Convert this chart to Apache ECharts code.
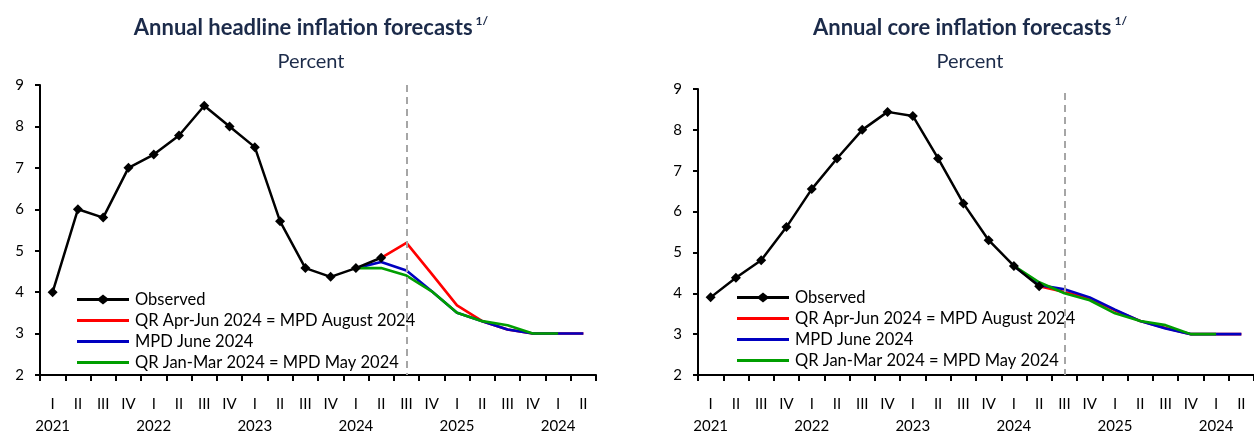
<!DOCTYPE html>
<html>
<head>
<meta charset="utf-8">
<script src="https://cdn.jsdelivr.net/npm/echarts@6/dist/echarts.min.js"></script>
<style>
html,body{margin:0;padding:0;background:#fff;}
#chart{width:1254px;height:437px;}
</style>
</head>
<body>
<div id="chart"></div>
<script>
// ---- Data ----
const quarters = ['I','II','III','IV','I','II','III','IV','I','II','III','IV','I','II','III','IV','I','II','III','IV','I','II'];
const yearLabels = ['2021','','','','2022','','','','2023','','','','2024','','','','2025','','','','2024',''];
const seriesNames = ['Observed','QR Apr-Jun 2024 = MPD August 2024','MPD June 2024','QR Jan-Mar 2024 = MPD May 2024'];

const headlineObserved = [4.0, 6.0, 5.8, 7.0, 7.32, 7.78, 8.5, 8.0, 7.5, 5.71, 4.58, 4.37, 4.58, 4.83];
const headlineQRAprJun = [null,null,null,null,null,null,null,null,null,null,null,null,null, 4.83, 5.19, 4.44, 3.68, 3.3, 3.1, 3.0, 3.0, 3.0];
const headlineMPDJune  = [null,null,null,null,null,null,null,null,null,null,null,null, 4.58, 4.73, 4.52, 4.02, 3.5, 3.3, 3.1, 3.0, 3.0, 3.0];
const headlineQRJanMar = [null,null,null,null,null,null,null,null,null,null,null,null, 4.58, 4.58, 4.4, 4.02, 3.5, 3.3, 3.2, 3.0, 3.0];

const coreObserved = [3.9, 4.38, 4.81, 5.62, 6.55, 7.3, 8.0, 8.44, 8.34, 7.3, 6.2, 5.3, 4.67, 4.17];
const coreQRAprJun = [null,null,null,null,null,null,null,null,null,null,null,null,null, 4.17, 4.03, 3.87, 3.58, 3.32, 3.15, 3.0, 3.0, 3.0];
const coreMPDJune  = [null,null,null,null,null,null,null,null,null,null,null,null, 4.67, 4.2, 4.1, 3.9, 3.6, 3.32, 3.14, 3.0, 3.0, 3.0];
const coreQRJanMar = [null,null,null,null,null,null,null,null,null,null,null,null, 4.67, 4.27, 4.0, 3.83, 3.51, 3.32, 3.22, 3.0, 3.0];

const yTicks = {min: 2, max: 9, interval: 1};
const dividerIndex = 14; // 2024 III
const dividerTop = [9, 8.9]; // top of dashed divider in each panel

// ---- Styling ----
const FONT = 'Lato';
const NAVY = '#1c2b4a';
const colors = ['#000000', '#ff0000', '#0000c0', '#009e00'];
const iconObserved = 'path://M0,3.6 L21.6,3.6 L26,0 L30.4,3.6 L52,3.6 L52,6.4 L30.4,6.4 L26,10 L21.6,6.4 L0,6.4 Z';
const iconLine = 'path://M0,0 L52,0 L52,3 L0,3 Z';

function makeTitle(text, x) {
  return [{
    text: '{t|' + text + '}{s|1/}',
    left: x, top: 15, textAlign: 'center', padding: 0,
    textStyle: {
      rich: {
        t: {fontFamily: FONT, fontWeight: 'bold', fontSize: 22, color: NAVY, lineHeight: 26},
        s: {fontFamily: FONT, fontWeight: 'bold', fontSize: 12, color: NAVY, verticalAlign: 'top', lineHeight: 14, padding: [0,0,0,3]}
      }
    }
  }, {
    text: 'Percent', left: x, top: 51, textAlign: 'center', padding: 0,
    textStyle: {fontFamily: FONT, fontWeight: 'normal', fontSize: 20, color: NAVY, lineHeight: 22}
  }];
}

function xAxisFor(gi) {
  return {
    type: 'category', gridIndex: gi, data: quarters, boundaryGap: true,
    axisLine: {show: true, lineStyle: {color: '#000', width: 2}},
    axisTick: {show: true, inside: false, length: 6, interval: 0, lineStyle: {color: '#000', width: 2}},
    axisLabel: {
      interval: 0, margin: 18, color: '#000', fontFamily: FONT, fontSize: 15, lineHeight: 22,
      formatter: function (v, i) { return yearLabels[i] ? v + '\n' + yearLabels[i] : v; }
    },
    splitLine: {show: false}
  };
}
function yAxisFor(gi) {
  return {
    type: 'value', gridIndex: gi, min: yTicks.min, max: yTicks.max, interval: yTicks.interval,
    axisLine: {show: true, lineStyle: {color: '#000', width: 2}},
    axisTick: {show: true, inside: false, length: 5, lineStyle: {color: '#000', width: 2}},
    axisLabel: {margin: 16, color: '#000', fontFamily: FONT, fontSize: 15},
    splitLine: {show: false}
  };
}

function seriesFor(gi, obs, red, blue, green) {
  const base = {type: 'line', xAxisIndex: gi, yAxisIndex: gi, symbol: 'none', connectNulls: false, animation: false};
  return [
    Object.assign({}, base, {
      name: seriesNames[1], data: red, z: 2,
      lineStyle: {color: colors[1], width: 2.6}, itemStyle: {color: colors[1]},
      markLine: {
        silent: true, symbol: ['none','none'], label: {show: false},
        lineStyle: {color: '#a6a6a6', type: [7,5], width: 2},
        data: [[{coord: [dividerIndex, dividerTop[gi]]}, {coord: [dividerIndex, yTicks.min]}]]
      }
    }),
    Object.assign({}, base, {
      name: seriesNames[2], data: blue, z: 3,
      lineStyle: {color: colors[2], width: 2.6}, itemStyle: {color: colors[2]}
    }),
    Object.assign({}, base, {
      name: seriesNames[3], data: green, z: 4,
      lineStyle: {color: colors[3], width: 2.6}, itemStyle: {color: colors[3]}
    }),
    Object.assign({}, base, {
      name: seriesNames[0], data: obs, z: 5, symbol: 'diamond', symbolSize: 10,
      lineStyle: {color: colors[0], width: 2.5}, itemStyle: {color: colors[0]}
    })
  ];
}

function legendFor(x, y) {
  return {
    orient: 'vertical', left: x, top: y, padding: 0, itemWidth: 52, itemHeight: 10, itemGap: 0,
    selectedMode: false,
    textStyle: {fontFamily: FONT, fontSize: 16.5, color: '#000', lineHeight: 21, padding: [0,0,0,1]},
    itemStyle: {borderWidth: 0},
    data: [
      {name: seriesNames[0], icon: iconObserved},
      {name: seriesNames[1], icon: iconLine},
      {name: seriesNames[2], icon: iconLine},
      {name: seriesNames[3], icon: iconLine}
    ]
  };
}

const chart = echarts.init(document.getElementById('chart'), null, {renderer: 'canvas'});
chart.setOption({
  animation: false,
  backgroundColor: '#ffffff',
  title: [].concat(makeTitle('Annual headline inflation forecasts', 311), makeTitle('Annual core inflation forecasts', 970)),
  legend: [legendFor(77, 289), legendFor(737, 287)],
  grid: [
    {left: 40, top: 85, width: 556, height: 297.5, containLabel: false},
    {left: 698, top: 89, width: 559, height: 288.5, containLabel: false}
  ],
  xAxis: [xAxisFor(0), xAxisFor(1)],
  yAxis: [yAxisFor(0), yAxisFor(1)],
  series: [].concat(
    seriesFor(0, headlineObserved, headlineQRAprJun, headlineMPDJune, headlineQRJanMar),
    seriesFor(1, coreObserved, coreQRAprJun, coreMPDJune, coreQRJanMar)
  )
});
</script>
</body>
</html>
